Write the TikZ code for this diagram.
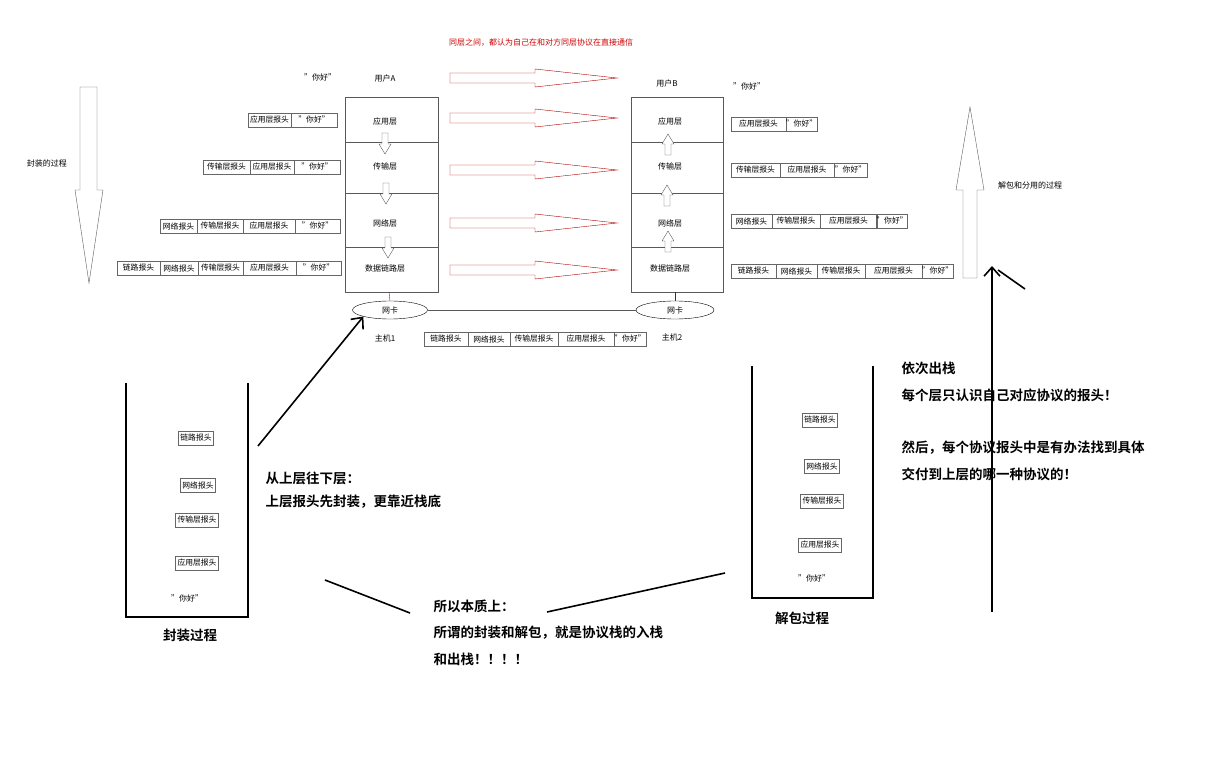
\documentclass[tikz,border=0pt]{standalone}
\usepackage{fontspec}
\setmainfont{Noto Sans CJK SC}[BoldFont={Noto Sans CJK SC Bold}]
\usetikzlibrary{arrows.meta,shapes.geometric}
\tikzset{
 cellst/.style={draw=gray!80!black,inner sep=0pt,minimum height=14pt,font=\fontsize{7.8}{8}\selectfont},
 sm/.style={font=\fontsize{8}{9}\selectfont},
 big/.style={font=\bfseries\fontsize{13.5}{15}\selectfont,anchor=west},
 darr/.pic={\draw[fill=white,draw=gray!70!black] (-3,0)--(-3,11)--(-6,11)--(0,21)--(6,11)--(3,11)--(3,0)--cycle;},
 uarr/.pic={\draw[fill=white,draw=gray!70!black] (-3,0)--(-3,-11)--(-6,-11)--(0,-21)--(6,-11)--(3,-11)--(3,0)--cycle;},
 rarr/.pic={\draw[red!70!black,thin] (0,-5)--(85,-5)--(85,-9)--(167,0)--(85,9)--(85,5)--(0,5)--cycle;},
 thick line/.style={line width=1.6pt,black}
}
\newcommand\cell[4]{\node[cellst,minimum width={(#2-#1)*1pt}] at ({(#1+#2)/2},#3) {#4};}
\begin{document}
\begin{tikzpicture}[x=1pt,y=-1pt]
\useasboundingbox (0,0) rectangle (1215,765);
\node[sm,red!80!black] (title) at (541,43) {同层之间，都认为自己在和对方同层协议在直接通信};
% stack A
\draw[gray!70!black] (345,97) rectangle (438,292);
\foreach \y in {142,193,247} \draw[gray!70!black] (345,\y)--(438,\y);
\node[sm] (a1) at (385,121) {应用层};
\node[sm] (a2) at (385,166) {传输层};
\node[sm] (a3) at (385,223) {网络层};
\node[sm] (a4) at (385,268) {数据链路层};
\pic at (385,133) {darr}; \pic at (386,183) {darr}; \pic at (388,237) {darr};
% stack B
\draw[gray!70!black] (631,97) rectangle (723,292);
\foreach \y in {142,193,247} \draw[gray!70!black] (631,\y)--(723,\y);
\node[sm] (b1) at (670,121) {应用层};
\node[sm] (b2) at (670,166) {传输层};
\node[sm] (b3) at (670,223) {网络层};
\node[sm] (b4) at (670,268) {数据链路层};
\pic at (668,155) {uarr}; \pic at (667,206) {uarr}; \pic at (668,252) {uarr};
% users
\node[sm] (ua) at (385,78) {用户A};
\node[sm] (ha) at (320,77) {"你好"};
\node[sm] (ub) at (667,83) {用户B};
\node[sm] (hb) at (749,86) {"你好"};
% red arrows
\foreach \y in {78,118,170,223,270} \pic at (450,\y) {rarr};
% NICs
\node[draw,ellipse,minimum width=75pt,minimum height=18pt,inner sep=0pt,sm] (nica) at (390,310) {网卡};
\node[draw,ellipse,minimum width=78pt,minimum height=18pt,inner sep=0pt,sm] (nicb) at (675,310) {网卡};
\draw[gray!70!black] (nica)--(nicb);
\draw[red!70!black] (389,292)--(nica.north);
\draw[red!70!black] (675,292)--(nicb.north);
\node[sm] (h1) at (385,338) {主机1};
\node[sm] (h2) at (672,337) {主机2};
% left rows
\cell{248}{291}{120}{应用层报头}\cell{291}{337}{120}{"你好"}
\cell{203}{250}{167}{传输层报头}\cell{250}{294}{167}{应用层报头}\cell{294}{340}{167}{"你好"}
\cell{160}{197}{226}{网络报头}\cell{197}{243}{226}{传输层报头}\cell{243}{295}{226}{应用层报头}\cell{295}{340}{226}{"你好"}
\cell{117}{160}{268}{链路报头}\cell{160}{198}{268}{网络报头}\cell{198}{243}{268}{传输层报头}\cell{243}{296}{268}{应用层报头}\cell{296}{341}{268}{"你好"}
% bottom row
\cell{424}{468}{339}{链路报头}\cell{468}{510}{339}{网络报头}\cell{510}{558}{339}{传输层报头}\cell{558}{614}{339}{应用层报头}\cell{614}{646}{339}{"你好"}
% right rows
\cell{731}{786}{124}{应用层报头}\cell{786}{817}{124}{"你好"}
\cell{731}{780}{170}{传输层报头}\cell{780}{834}{170}{应用层报头}\cell{834}{867}{170}{"你好"}
\cell{731}{772}{221}{网络报头}\cell{772}{820}{221}{传输层报头}\cell{820}{877}{221}{应用层报头}\cell{877}{907}{221}{"你好"}
\cell{731}{776}{271}{链路报头}\cell{776}{817}{271}{网络报头}\cell{817}{865}{271}{传输层报头}\cell{865}{922}{271}{应用层报头}\cell{922}{953}{271}{"你好"}
% big arrows
\draw[gray!70!black] (80,87)--(80,190)--(75,190)--(89,283)--(103,190)--(97,190)--(97,87)--cycle;
\node[sm] (fz) at (47,163) {封装的过程};
\draw[gray!70!black] (963,278)--(963,190)--(956,190)--(970,107)--(984,190)--(977,190)--(977,278)--cycle;
\node[sm] (jb) at (1030,185) {解包和分用的过程};
% black strokes
\coordinate (s1) at (258,446);
\draw[thick line,-{Straight Barb[length=9pt,width=16pt]}] (s1)--(nica.south west);
\coordinate (r0) at (992,612); \coordinate (r1) at (992,266);
\draw[thick line,-{Straight Barb[length=9pt,width=16pt]}] (r0)--(r1);
\draw[thick line] (998,270)--(1025,289);
\draw[thick line] (325,580)--(410,613);
\draw[thick line] (547,612)--(725,573);
% buckets
\draw[thick line] (126,383)--(126,617)--(248,617)--(248,383);
\draw[thick line] (752,366)--(752,598)--(873,598)--(873,366);
\node[cellst,inner sep=2pt] (l1) at (196,438) {链路报头};
\node[cellst,inner sep=2pt] (l2) at (198,485) {网络报头};
\node[cellst,inner sep=2pt] (l3) at (197,520) {传输层报头};
\node[cellst,inner sep=2pt] (l4) at (197,563) {应用层报头};
\node[sm] (l5) at (187,598) {"你好"};
\node[cellst,inner sep=2pt] (r1n) at (820,420) {链路报头};
\node[cellst,inner sep=2pt] (r2n) at (822,466) {网络报头};
\node[cellst,inner sep=2pt] (r3n) at (822,501) {传输层报头};
\node[cellst,inner sep=2pt] (r4n) at (820,545) {应用层报头};
\node[sm] (r5n) at (814,578) {"你好"};
% bold texts
\node[big,anchor=center] (t1) at (190,635) {封装过程};
\node[big,anchor=center] (t2) at (802,618) {解包过程};
\node[big] (t3) at (262,478) {从上层往下层：};
\node[big] (t4) at (262,502) {上层报头先封装，更靠近栈底};
\node[big] (t5) at (430,606) {所以本质上：};
\node[big] (t6) at (430,633) {所谓的封装和解包，就是协议栈的入栈};
\node[big] (t7) at (430,659) {和出栈！！！！};
\node[big] (t8) at (898,368) {依次出栈};
\node[big] (t9) at (898,395) {每个层只认识自己对应协议的报头！};
\node[big] (t10) at (898,448) {然后，每个协议报头中是有办法找到具体};
\node[big] (t11) at (898,474) {交付到上层的哪一种协议的！};
\end{tikzpicture}
\end{document}
